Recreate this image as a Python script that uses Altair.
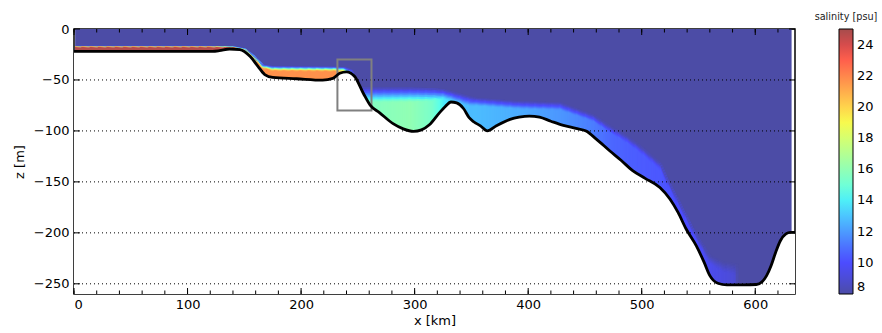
import altair as alt
import numpy as np
import pandas as pd

# ---------------- data ----------------
x_ticks = [0, 100, 200, 300, 400, 500, 600]
x_minor = list(range(0, 640, 20))
z_ticks = [0, -50, -100, -150, -200, -250]
grid_z = [-50, -100, -150, -200, -250]
legend_vals = [8, 10, 12, 14, 16, 18, 20, 22, 24]

# bathymetry (km, m)
bathy_x = [0, 60, 122, 128, 137, 146, 155, 162, 168, 175, 196, 219, 228, 234, 240,
           247, 255, 261, 269, 281, 290, 299, 306, 313, 322, 327, 332, 337, 343, 348,
           352, 358, 364, 372, 384, 392, 401, 410, 420, 431, 442, 451, 460, 472, 482,
           492, 503, 516, 525, 532, 539, 548, 555, 560, 567, 575, 590, 601, 606, 610,
           614, 618, 622, 627, 631, 635]
bathy_z = [-22, -22, -21.9, -21.3, -19.6, -20.2, -26.8, -36.6, -44.7, -47.5, -48.8, -50.2, -48.5, -43.5, -42,
           -46.3, -63.5, -75, -82, -92.9, -98, -100.5, -99, -94, -82, -76, -71.6, -72.5, -78, -87,
           -91, -95, -100, -95, -88.7, -86.5, -85.4, -86.5, -90.5, -94.6, -97.5, -100.1, -108, -119.7, -129,
           -139, -146.5, -155.5, -167, -180, -196, -212.6, -229, -242, -249.4, -251, -251, -250.7, -248, -242,
           -232, -219, -208, -201, -199.5, -199.5]

# salinity structure of the bottom water (km, psu, m)
sal_x    = [1, 120, 140, 150, 158, 166, 175, 230, 238, 244, 250, 262, 296, 315, 325,
            335, 348, 354, 392, 428, 457, 472, 487, 498, 516, 523, 547, 560, 572, 582, 584, 632]
sal_bot  = [24.7, 24.7, 24.3, 23, 22, 21.7, 21.7, 21.7, 19.5, 17, 15.5, 15.6, 16, 15.3, 14,
            13, 12.8, 12.8, 12.4, 11.9, 11.3, 10.8, 10.6, 10.5, 10.4, 10.3, 10.0, 9.5, 9.2, 9.0, 8, 8]
sal_top  = [-16.5, -16.5, -17, -19, -26, -35, -36.5, -37, -37.5, -40, -57, -57.5, -57.5, -58, -59,
            -62, -66, -67.5, -70.8, -72, -84, -95, -105, -114, -131, -148, -200, -222, -228, -230, -230, -230]
sal_core = [-17.5, -17.5, -18, -20.5, -28, -38, -40.5, -41, -41, -45, -71, -71, -71, -70, -68,
            -70, -75, -75, -78, -79, -90, -101, -111, -120, -137, -153, -204, -230, -238, -240, -240, -240]
field_x0, field_x1, field_bottom = 1, 632, -260

box_x = [232, 262]
box_z = [-30, -80]

# ---------------- colour map: jet at alpha 0.7 over white ----------------
jet_pos = [0, 0.11, 0.125, 0.34, 0.35, 0.375, 0.64, 0.65, 0.66, 0.89, 0.91, 1]
def jet_hex(t):
    r = np.interp(t, [0, 0.35, 0.66, 0.89, 1], [0, 0, 1, 1, 0.5])
    g = np.interp(t, [0, 0.125, 0.375, 0.64, 0.91, 1], [0, 0, 1, 1, 0, 0])
    b = np.interp(t, [0, 0.11, 0.34, 0.65, 1], [0.5, 1, 1, 0, 0])
    c = [int(round(255 * (0.3 + 0.7 * v))) for v in (r, g, b)]
    return "#%02x%02x%02x" % tuple(c)
smin, smax = 8, 25
col_dom = [smin + (smax - smin) * t for t in jet_pos]
col_rng = [jet_hex(t) for t in jet_pos]

# ---------------- build the field table ----------------
rows = [dict(x=field_x0, x2=field_x1, z=0, z2=field_bottom, sal=8.0)]
ng = 7
for c in np.arange(field_x0, 584, 1.0):
    xc = c + 0.5
    sb = float(np.interp(xc, sal_x, sal_bot))
    if sb <= 8.05:
        continue
    zt = float(np.interp(xc, sal_x, sal_top))
    zc = float(np.interp(xc, sal_x, sal_core))
    edges = np.linspace(zt, zc, ng + 1)
    for k in range(ng):
        s = 8 + (sb - 8) * (k + 0.5) / ng
        rows.append(dict(x=c, x2=c + 2.2, z=float(edges[k]), z2=float(edges[k + 1]) - 1.2, sal=s))
    rows.append(dict(x=c, x2=c + 2.2, z=zc, z2=field_bottom, sal=sb))
field_df = pd.DataFrame(rows)

bathy_df = pd.DataFrame({"x": bathy_x, "z": bathy_z})
grid_df = pd.DataFrame({"z": grid_z})
box_df = pd.DataFrame({"x": [box_x[0]], "x2": [box_x[1]], "z": [box_z[0]], "z2": [box_z[1]]})
minor_df = pd.DataFrame({"x": x_minor})
major_df = pd.DataFrame({"x": x_ticks})
zt_df = pd.DataFrame({"z": z_ticks})

W, H = 721, 265
FONT = "DejaVu Sans"

def X(field="x"):
    return alt.X(f"{field}:Q",
                 scale=alt.Scale(domain=[0, 635], nice=False, zero=False),
                 axis=alt.Axis(values=x_ticks, format="d", labelPadding=4, titlePadding=3),
                 title="x [km]")

def Y(field="z"):
    return alt.Y(f"{field}:Q",
                 scale=alt.Scale(domain=[-260, 0], nice=False, zero=False),
                 axis=alt.Axis(values=z_ticks, format="d", labelPadding=5, titlePadding=7),
                 title="z [m]")

color = alt.Color(
    "sal:Q",
    scale=alt.Scale(domain=col_dom, range=col_rng, interpolate="rgb"),
    legend=alt.Legend(orient="none", legendX=765, legendY=0, direction="vertical",
                      gradientLength=265, gradientThickness=14, values=legend_vals,
                      title=None, labelFontSize=13, labelFont=FONT, labelColor="black",
                      labelOffset=4, labelOverlap=False, labelBaseline="middle",
                      gradientStrokeColor="black", gradientStrokeWidth=1),
)

field = alt.Chart(field_df).mark_rect(strokeWidth=0).encode(
    x=X(), x2="x2:Q", y=Y(), y2="z2:Q", color=color)

mask = alt.Chart(bathy_df).mark_area(color="white", interpolate="monotone").encode(
    x=X(), y=Y(), y2=alt.datum(-260))

grid = alt.Chart(grid_df).mark_rule(color="black", strokeDash=[1, 3], strokeWidth=1).encode(
    y=Y(), x=alt.value(0), x2=alt.value(W))

box = alt.Chart(box_df).mark_rect(fillOpacity=0, stroke="#808080", strokeWidth=2).encode(
    x=X(), x2="x2:Q", y=Y(), y2="z2:Q")

line = alt.Chart(bathy_df).mark_line(color="black", strokeWidth=2.8, interpolate="monotone").encode(
    x=X(), y=Y())

tick_b_minor = alt.Chart(minor_df).mark_rule(color="black", strokeWidth=1).encode(
    x=X(), y=alt.value(H), y2=alt.value(H - 3.5))
tick_t_minor = alt.Chart(minor_df).mark_rule(color="black", strokeWidth=1).encode(
    x=X(), y=alt.value(0), y2=alt.value(3.5))
tick_b_major = alt.Chart(major_df).mark_rule(color="black", strokeWidth=1).encode(
    x=X(), y=alt.value(H), y2=alt.value(H - 6))
tick_t_major = alt.Chart(major_df).mark_rule(color="black", strokeWidth=1).encode(
    x=X(), y=alt.value(0), y2=alt.value(6))
tick_l = alt.Chart(zt_df).mark_rule(color="black", strokeWidth=1).encode(
    y=Y(), x=alt.value(0), x2=alt.value(6))
tick_r = alt.Chart(zt_df).mark_rule(color="black", strokeWidth=1).encode(
    y=Y(), x=alt.value(W), x2=alt.value(W - 6))

ctitle = alt.Chart(pd.DataFrame({"t": ["salinity [psu]"]})).mark_text(
    fontSize=9.7, font=FONT, align="center", baseline="middle", color="#222222").encode(
    x=alt.value(772), y=alt.value(-12), text="t:N")

chart = alt.layer(field, mask, grid, box, line,
                  tick_b_minor, tick_t_minor, tick_b_major, tick_t_major, tick_l, tick_r,
                  ctitle).properties(
    width=W, height=H,
    padding={"left": 74, "top": 29, "right": 87, "bottom": 39},
    autosize=alt.AutoSizeParams(type="none"),
).configure_view(stroke="black", strokeWidth=1.5).configure_axis(
    labelFont=FONT, titleFont=FONT, labelFontSize=13, titleFontSize=13,
    labelColor="black", titleColor="black", titleFontWeight="normal",
    grid=False, ticks=False, domain=False,
)

chart.save("out.html", embed_options={"renderer": "svg", "actions": False})
